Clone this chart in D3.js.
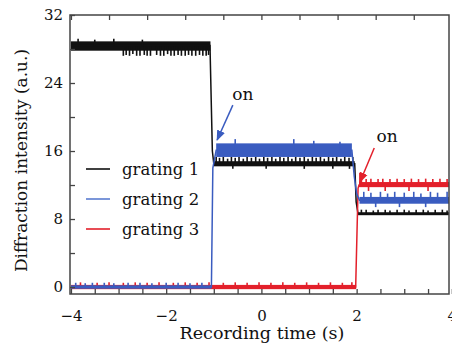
<!DOCTYPE html>
<html>
<head>
<meta charset="utf-8">
<script src="https://cdn.jsdelivr.net/npm/d3@7"></script>
<style>
  body { margin: 0; background: #fff; }
  svg { display: block; }
  text { font-family: "DejaVu Serif", serif; fill: #111; }
  .tick line { stroke: #444; stroke-width: 1.3; }
</style>
</head>
<body>
<svg id="chart" width="452" height="343"></svg>
<script>
// --- data (time in s, intensity in a.u.) ---
const seriesNames = ["grating 1", "grating 2", "grating 3"];

// noise bands [t0, t1, low, high]
const g1Bands = [[-4, -1.07, 27.8, 28.9], [-1.0, 1.96, 14.2, 14.8], [2.03, 4, 8.45, 8.8]];
const g2Bands = [[-4, -1.05, -0.2, 0.2], [-0.95, 1.9, 15.3, 16.9], [2.06, 4, 9.8, 10.6]];
const g3Bands = [[-4, 1.99, -0.25, 0.25], [2.05, 4, 11.75, 12.35]];

// mean trace incl. switching edges
const g1Trace = [[-4, 28.4], [-1.08, 28.4], [-1.03, 16], [-1.0, 14.5], [1.96, 14.5], [1.99, 10], [2.03, 8.6], [4, 8.6]];
const g2Trace = [[-4, 0], [-1.05, 0], [-1.02, 14], [-0.95, 16.1], [1.9, 16.1], [1.95, 13], [2.0, 11], [2.06, 10.2], [4, 10.2]];
const g3Trace = [[-4, 0], [1.98, 0], [2.03, 11.6], [2.05, 12], [4, 12]];

// single-sample excursions [t, value]
const g1Spikes = [
  [-3.85, 29.2], [-3.5, 29.1], [-3.1, 29.2], [-2.5, 29.1],
  [-2.9, 27.2], [-2.84, 27.3], [-2.77, 27.2], [-2.7, 27.4], [-2.62, 27.2], [-2.55, 27.2],
  [-2.46, 27.3], [-2.4, 27.2], [-2.33, 27.2], [-2.2, 27.3], [-2.12, 27.2], [-2.05, 27.2],
  [-1.97, 27.4], [-1.9, 27.2], [-1.83, 27.2], [-1.75, 27.3], [-1.68, 27.2], [-1.6, 27.2],
  [-1.53, 27.3], [-1.46, 27.2], [-1.38, 27.2], [-1.3, 27.3], [-1.23, 27.2], [-1.16, 27.2], [-1.11, 27.3],
  [-0.95, 15.3], [-0.88, 15.2], [-0.8, 15.3], [-0.71, 15.1], [-0.63, 15.3], [-0.55, 15.2],
  [-0.47, 15.3], [-0.38, 15.1], [-0.3, 15.3], [-0.21, 15.2], [-0.12, 15.3], [-0.04, 15.1],
  [0.05, 15.3], [0.13, 15.2], [0.22, 15.3], [0.3, 15.1], [0.39, 15.3], [0.47, 15.2],
  [0.56, 15.3], [0.64, 15.1], [0.72, 15.3], [0.81, 15.2], [0.9, 15.3], [0.98, 15.1],
  [1.07, 15.3], [1.15, 15.2], [1.24, 15.3], [1.32, 15.1], [1.41, 15.3], [1.5, 15.2],
  [1.58, 15.3], [1.67, 15.1], [1.75, 15.3], [1.84, 15.2], [1.92, 15.3],
  [-0.6, 13.9], [0.1, 13.9], [0.9, 13.9], [1.5, 13.9], [1.85, 13.9],
  [2.1, 9.1], [2.2, 9.1], [2.35, 9.0], [2.45, 9.1], [2.6, 9.1], [2.7, 9.0], [2.85, 9.1],
  [3.0, 9.1], [3.1, 9.0], [3.25, 9.1], [3.4, 9.1], [3.5, 9.0], [3.65, 9.1], [3.8, 9.1], [3.9, 9.0]
];
const g2Spikes = [
  [-3.9, 0.5], [-3.7, 0.45], [-3.55, 0.5], [-3.3, 0.5], [-3.1, 0.45], [-2.8, 0.5],
  [-2.55, 0.5], [-2.3, 0.45], [-2.0, 0.5], [-1.75, 0.5], [-1.5, 0.45], [-1.25, 0.5],
  [-0.55, 17.4], [0.68, 17.4], [1.1, 17.2], [1.65, 17.1],
  [2.15, 11.2], [2.3, 11.1], [2.5, 11.2], [2.65, 11.0], [2.8, 11.2], [3.0, 11.1],
  [3.2, 11.2], [3.35, 11.0], [3.55, 11.2], [3.7, 11.1], [3.9, 11.2],
  [2.4, 9.4], [2.9, 9.4], [3.45, 9.4]
];
const g3Spikes = [
  [-3.8, 0.55], [-3.45, 0.5], [-3.2, 0.55], [-2.9, 0.5], [-2.65, 0.55], [-2.4, 0.5],
  [-2.15, 0.55], [-1.85, 0.5], [-1.6, 0.55], [-1.35, 0.5], [-1.1, 0.55], [-0.8, 0.5],
  [-0.55, 0.55], [-0.3, 0.5], [-0.05, 0.55], [0.2, 0.5], [0.45, 0.55], [0.7, 0.5],
  [0.95, 0.55], [1.2, 0.5], [1.45, 0.55], [1.7, 0.5], [1.9, 0.55],
  [2.07, 13.4],
  [2.1, 12.75], [2.2, 12.7], [2.3, 12.75], [2.45, 12.7], [2.55, 12.75], [2.7, 12.7],
  [2.85, 12.75], [3.0, 12.7], [3.15, 12.75], [3.3, 12.7], [3.45, 12.75], [3.6, 12.7],
  [3.75, 12.75], [3.9, 12.7],
  [2.25, 11.3], [2.6, 11.3], [3.1, 11.3], [3.5, 11.3]
];

// "on" annotations: [text t, text value, arrow from t, from v, arrow to t, to v]
const onNotes = [[-0.39, 22.0, -0.6, 21.4, -0.93, 17.3], [2.64, 17.1, 2.37, 16.35, 2.07, 12.35]];

const yTicks = [0, 4, 8, 12, 16, 20, 24, 28, 32];
const yLabels = [0, 8, 16, 24, 32];
const xTicksBottom = [-4, -3.5, -3, -2.5, -2, -1.5, -1, -0.5, 0, 0.5, 1, 1.5, 2, 2.5, 3, 3.5, 4];
const xLabels = [-4, -2, 0, 2, 4];
const xTicksTop = [-4, -3.2, -2.4, -1.6, -0.8, 0, 0.8, 1.6, 2.4, 3.2];

// --- drawing ---
const colors = ["#111111", "#3a5cc0", "#e3202b"];
const series = [
  {name: seriesNames[0], bands: g1Bands, trace: g1Trace, spikes: g1Spikes, color: colors[0]},
  {name: seriesNames[1], bands: g2Bands, trace: g2Trace, spikes: g2Spikes, color: colors[1]},
  {name: seriesNames[2], bands: g3Bands, trace: g3Trace, spikes: g3Spikes, color: colors[2]}
];
const drawOrder = [0, 2, 1];

const svg = d3.select("#chart");
const plotLeft = 70, plotRight = 449, plotTop = 15, plotBottom = 294;

const x = d3.scaleLinear().domain([-4.02, 3.94]).range([plotLeft, plotRight]);
const y = d3.scaleLinear().domain([-0.82, 32]).range([plotBottom, plotTop]);

svg.append("clipPath").attr("id", "plot-clip")
  .append("rect")
  .attr("x", plotLeft).attr("y", plotTop)
  .attr("width", plotRight - plotLeft).attr("height", plotBottom - plotTop);

const plot = svg.append("g").attr("clip-path", "url(#plot-clip)");
const line = d3.line().x(d => x(d[0])).y(d => y(d[1]));

function bandLevel(bands, t) {
  const b = bands.find(b => t >= b[0] && t <= b[1]);
  return b ? (b[2] + b[3]) / 2 : null;
}

drawOrder.forEach(i => {
  const s = series[i];
  const g = plot.append("g").attr("class", "series-" + i);
  g.selectAll("rect")
    .data(s.bands)
    .enter()
    .append("rect")
    .attr("x", d => x(d[0]))
    .attr("width", d => x(d[1]) - x(d[0]))
    .attr("y", d => y(d[3]))
    .attr("height", d => y(d[2]) - y(d[3]))
    .attr("fill", s.color);
  g.append("path")
    .attr("d", line(s.trace))
    .attr("fill", "none")
    .attr("stroke", s.color)
    .attr("stroke-width", 1.5);
  g.selectAll("line")
    .data(s.spikes.filter(d => bandLevel(s.bands, d[0]) != null))
    .enter()
    .append("line")
    .attr("x1", d => x(d[0])).attr("x2", d => x(d[0]))
    .attr("y1", d => y(bandLevel(s.bands, d[0])))
    .attr("y2", d => y(d[1]))
    .attr("stroke", s.color)
    .attr("stroke-width", 1.6);
});

// axes, ticks pointing inward
const yAxis = d3.axisLeft(y).tickValues(yTicks).tickSizeInner(-5).tickSizeOuter(0).tickPadding(7)
  .tickFormat(d => yLabels.includes(d) ? d : "");
svg.append("g").attr("transform", `translate(${plotLeft},0)`).call(yAxis)
  .call(g => g.select(".domain").remove())
  .selectAll("text").style("font-size", "15px").style("font-family", "DejaVu Serif, serif");

const xAxis = d3.axisBottom(x).tickValues(xTicksBottom).tickSizeInner(-5).tickSizeOuter(0).tickPadding(16)
  .tickFormat(d => xLabels.includes(d) ? (d < 0 ? "\u2212" + Math.abs(d) : d) : "");
svg.append("g").attr("transform", `translate(0,${plotBottom})`).call(xAxis)
  .call(g => g.select(".domain").remove())
  .selectAll("text").style("font-size", "15px").style("font-family", "DejaVu Serif, serif");

const xTop = d3.axisTop(x).tickValues(xTicksTop).tickSizeInner(-5).tickSizeOuter(0).tickFormat("");
svg.append("g").attr("transform", `translate(0,${plotTop})`).call(xTop)
  .call(g => g.select(".domain").remove());

svg.append("rect")
  .attr("x", plotLeft).attr("y", plotTop)
  .attr("width", plotRight - plotLeft).attr("height", plotBottom - plotTop)
  .attr("fill", "none").attr("stroke", "#444").attr("stroke-width", 1.5);

// axis titles
svg.append("text")
  .attr("transform", `translate(27,${(plotTop + plotBottom) / 2 + 6}) rotate(-90)`)
  .attr("text-anchor", "middle")
  .style("font-size", "17px")
  .text("Diffraction intensity (a.u.)");

svg.append("text")
  .attr("x", 262).attr("y", 339)
  .attr("text-anchor", "middle")
  .style("font-size", "17.5px")
  .text("Recording time (s)");

// legend
const legend = svg.append("g");
series.forEach((s, i) => {
  const base = 175 + i * 30;
  legend.append("line")
    .attr("x1", 86).attr("x2", 110)
    .attr("y1", base - 6).attr("y2", base - 6)
    .attr("stroke", i === 1 ? "#5b7cd0" : s.color)
    .attr("stroke-width", 1.6);
  legend.append("text")
    .attr("x", 122).attr("y", base)
    .style("font-size", "16.5px")
    .text(s.name);
});

// "on" arrows
svg.append("defs").selectAll("marker")
  .data(onNotes)
  .enter()
  .append("marker")
  .attr("id", (d, i) => "arrow" + i)
  .attr("viewBox", "0 0 10 10")
  .attr("refX", 9).attr("refY", 5)
  .attr("markerWidth", 7).attr("markerHeight", 7)
  .attr("orient", "auto")
  .append("path")
  .attr("d", "M0,1 L10,5 L0,9 Z")
  .attr("fill", (d, i) => i === 0 ? colors[1] : colors[2]);

onNotes.forEach((n, i) => {
  svg.append("line")
    .attr("x1", x(n[2])).attr("y1", y(n[3]))
    .attr("x2", x(n[4])).attr("y2", y(n[5]))
    .attr("stroke", i === 0 ? colors[1] : colors[2])
    .attr("stroke-width", 1.5)
    .attr("marker-end", `url(#arrow${i})`);
  svg.append("text")
    .attr("x", x(n[0])).attr("y", y(n[1]))
    .attr("text-anchor", "middle")
    .style("font-size", "17px")
    .text("on");
});
</script>
</body>
</html>
